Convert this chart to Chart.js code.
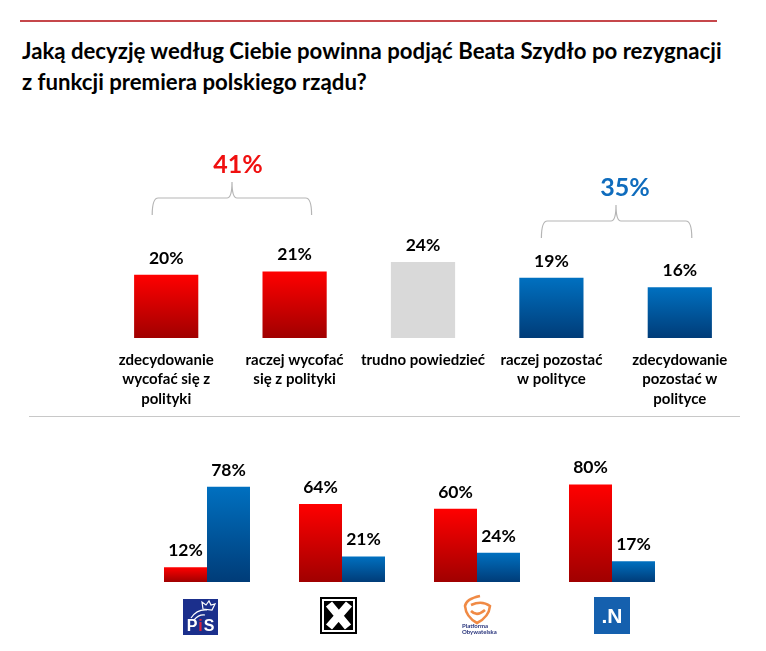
<!DOCTYPE html>
<html>
<head>
<meta charset="utf-8">
<script src="https://cdn.jsdelivr.net/npm/chart.js@4"></script>
<style>
  html, body { margin: 0; padding: 0; background: #fff; }
  #page { position: relative; width: 766px; height: 651px; overflow: hidden; font-family: Lato, sans-serif; }
  #topRule { position: absolute; left: 20px; top: 20px; width: 697px; height: 1.5px; background: #c6474b; }
  #midRule { position: absolute; left: 29px; top: 416px; width: 711px; height: 1px; background: #c8c8c8; }
  h1 { position: absolute; left: 22px; top: 35px; margin: 0; width: 730px; font-size: 22.2px; line-height: 31px; font-weight: 700; color: #000; }
  .box { position: absolute; left: 0; width: 766px; }
</style>
</head>
<body>
<div id="page">
  <div id="topRule"></div>
  <h1>Jaką decyzję według Ciebie powinna podjąć Beata Szydło po rezygnacji<br>z funkcji premiera polskiego rządu?</h1>
  <div class="box" style="top:140px;height:276px"><canvas id="chartTop"></canvas></div>
  <div id="midRule"></div>
  <div class="box" style="top:440px;height:211px"><canvas id="chartParties"></canvas></div>
</div>
<script>
// top chart
var decisions = [
    ['zdecydowanie', 'wycofać się z', 'polityki'],
    ['raczej wycofać', 'się z polityki'],
    'trudno powiedzieć',
    ['raczej pozostać', 'w polityce'],
    ['zdecydowanie', 'pozostać w', 'polityce']
];
var decisionValues = [20, 21, 24, 19, 16];
var decisionKinds = ['red', 'red', 'grey', 'blue', 'blue'];
var groupTotals = ['41%', '35%'];

// party chart
var parties = ['PiS', 'Kukiz', 'PO', 'N'];
var withdrawValues = [12, 64, 60, 80];
var stayValues = [78, 21, 24, 17];

var FONT = 'Lato, sans-serif';
var ramps = {
    red: ['#ff0000', '#a00000'],
    blue: ['#0070c0', '#003c78'],
    grey: ['#d9d9d9', '#d9d9d9']
};

function barGradient(ctx, kind) {
    var chart = ctx.chart;
    var y = chart.scales.y;
    if (!kind || !y || ctx.raw === undefined) return '#999';
    var y0 = y.getPixelForValue(ctx.raw), y1 = y.getPixelForValue(0);
    // scale has no size yet on the first pass
    if (!isFinite(y0) || !isFinite(y1)) return ramps[kind][0];
    var g = chart.ctx.createLinearGradient(0, y0, 0, y1);
    g.addColorStop(0, ramps[kind][0]);
    g.addColorStop(1, ramps[kind][1]);
    return g;
}

// percent labels above the bars
var valueLabels = {
    id: 'valueLabels',
    afterDatasetsDraw: function(chart, args, opts) {
        var c = chart.ctx;
        c.save();
        c.font = '700 ' + opts.size + 'px ' + FONT;
        c.fillStyle = '#000';
        c.textAlign = 'center';
        c.textBaseline = 'bottom';
        chart.data.datasets.forEach(function(ds, i) {
            chart.getDatasetMeta(i).data.forEach(function(bar, j) {
                c.fillText(ds.data[j] + '%', bar.x, bar.y - opts.gap);
            });
        });
        c.restore();
    }
};

// curly brackets with the summed share
var brackets = {
    id: 'brackets',
    afterDraw: function(chart) {
        var c = chart.ctx;
        var x = chart.scales.x;
        function bracket(from, to, dl, dr, midX, apex, label, color, labelX, labelY) {
            var l = x.getPixelForTick(from) + dl, r = x.getPixelForTick(to) + dr;
            var top = apex + 16, end = apex + 33;
            c.strokeStyle = '#b5b5b5';
            c.lineWidth = 1.2;
            c.beginPath();
            c.moveTo(l, end);
            c.quadraticCurveTo(l, top, l + 6, top);
            c.lineTo(midX - 5, top);
            c.quadraticCurveTo(midX, top, midX, apex);
            c.quadraticCurveTo(midX, top, midX + 5, top);
            c.lineTo(r - 6, top);
            c.quadraticCurveTo(r, top, r, end);
            c.stroke();
            c.font = '700 25px ' + FONT;
            c.fillStyle = color;
            c.textAlign = 'center';
            c.textBaseline = 'middle';
            c.fillText(label, labelX, labelY);
        }
        bracket(0, 1, -14, 17, 232, 42, groupTotals[0], '#f01010', 238, 25);
        bracket(3, 4, -10, 12, 616, 65, groupTotals[1], '#0f6cbd', 625, 48);
    }
};

// party logos under each group
var logos = {
    id: 'logos',
    afterDraw: function(chart) {
        var c = chart.ctx;
        var x = chart.scales.x;
        var top = 157;
        c.save();

        // PiS
        var px = x.getPixelForTick(0) - 24;
        c.fillStyle = '#1b2f8c';
        c.fillRect(px, top + 2, 35, 36);
        c.strokeStyle = '#fff';
        c.lineWidth = 1.2;
        c.beginPath();
        c.moveTo(px + 8, top + 21);
        c.quadraticCurveTo(px + 14, top + 12, px + 24, top + 13);
        c.moveTo(px + 11, top + 23);
        c.quadraticCurveTo(px + 16, top + 17, px + 22, top + 18);
        c.stroke();
        c.beginPath();
        c.moveTo(px + 20, top + 12);
        c.lineTo(px + 19, top + 5);
        c.lineTo(px + 23, top + 8);
        c.lineTo(px + 26, top + 4);
        c.lineTo(px + 28, top + 8);
        c.lineTo(px + 32, top + 7);
        c.lineTo(px + 29, top + 13);
        c.closePath();
        c.stroke();
        c.font = '700 16px "Liberation Sans", sans-serif';
        c.textAlign = 'center';
        c.textBaseline = 'alphabetic';
        c.fillStyle = '#fff';
        c.fillText('P', px + 9, top + 34);
        c.fillText('S', px + 26, top + 34);
        c.fillStyle = '#d8203a';
        c.fillText('i', px + 17.5, top + 34);

        // Kukiz
        var kx = x.getPixelForTick(1) - 22;
        c.fillStyle = '#000';
        c.fillRect(kx, top, 37, 37);
        c.fillStyle = '#fff';
        c.fillRect(kx + 2, top + 2, 33, 33);
        c.fillStyle = '#000';
        c.fillRect(kx + 4, top + 4, 29, 29);
        c.strokeStyle = '#fff';
        c.lineWidth = 8;
        c.beginPath();
        c.moveTo(kx + 9, top + 7);
        c.lineTo(kx + 28, top + 30);
        c.moveTo(kx + 29, top + 7);
        c.lineTo(kx + 9, top + 30);
        c.stroke();

        // Platforma Obywatelska
        var ox = x.getPixelForTick(2) - 15;
        c.strokeStyle = '#f08a45';
        c.lineWidth = 2.6;
        c.beginPath();
        c.moveTo(ox + 18, top - 1);
        c.quadraticCurveTo(ox + 4, top + 2, ox + 3, top + 9);
        c.quadraticCurveTo(ox + 4, top + 20, ox + 15, top + 26);
        c.quadraticCurveTo(ox + 27, top + 20, ox + 28, top + 9);
        c.quadraticCurveTo(ox + 20, top + 3, ox + 9, top + 8);
        c.moveTo(ox + 9, top + 14);
        c.quadraticCurveTo(ox + 15, top + 20, ox + 23, top + 13);
        c.stroke();
        c.fillStyle = '#26327a';
        c.font = '700 6px ' + FONT;
        c.textAlign = 'left';
        c.fillText('Platforma', ox, top + 31);
        c.fillText('Obywatelska', ox, top + 37);

        // Nowoczesna
        var nx = x.getPixelForTick(3) - 18;
        c.fillStyle = '#1560ae';
        c.fillRect(nx, top, 36, 37);
        c.fillStyle = '#fff';
        c.font = '700 21px "Liberation Sans", sans-serif';
        c.textAlign = 'center';
        c.fillText('.N', nx + 18, top + 26);
        c.restore();
    }
};

var ctxTop = document.getElementById('chartTop').getContext('2d');
var chartTop = new Chart(ctxTop, {
    type: 'bar',
    data: {
        labels: decisions,
        datasets: [{
            data: decisionValues,
            backgroundColor: function(ctx) {
                return barGradient(ctx, decisionKinds[ctx.dataIndex]);
            },
            barPercentage: 1,
            categoryPercentage: 0.5
        }]
    },
    options: {
        maintainAspectRatio: false,
        animation: false,
        layout: { padding: { left: 102, right: 22, top: 103, bottom: 0 } },
        plugins: {
            legend: { display: false },
            tooltip: { enabled: false },
            valueLabels: { size: 17.5, gap: 8 }
        },
        scales: {
            x: {
                grid: { display: false },
                border: { display: false },
                afterFit: function(scale) { scale.height = 78; },
                ticks: {
                    autoSkip: false,
                    maxRotation: 0,
                    padding: 4,
                    color: '#000',
                    font: { family: FONT, size: 15, weight: '700', lineHeight: 1.3 }
                }
            },
            y: { display: false, min: 0, max: 30 }
        }
    },
    plugins: [valueLabels, brackets]
});

var ctxParties = document.getElementById('chartParties').getContext('2d');
var chartParties = new Chart(ctxParties, {
    type: 'bar',
    data: {
        labels: parties,
        datasets: [{
            label: 'wycofać się',
            data: withdrawValues,
            backgroundColor: function(ctx) { return barGradient(ctx, 'red'); },
            barPercentage: 1,
            categoryPercentage: 0.637
        }, {
            label: 'pozostać',
            data: stayValues,
            backgroundColor: function(ctx) { return barGradient(ctx, 'blue'); },
            barPercentage: 1,
            categoryPercentage: 0.637
        }]
    },
    options: {
        maintainAspectRatio: false,
        animation: false,
        layout: { padding: { left: 139.5, right: 86.5, top: 20, bottom: 69 } },
        plugins: {
            legend: { display: false },
            tooltip: { enabled: false },
            valueLabels: { size: 17.5, gap: 8 }
        },
        scales: {
            x: { display: false },
            y: { display: false, min: 0, max: 100 }
        }
    },
    plugins: [valueLabels, logos]
});
</script>
</body>
</html>
